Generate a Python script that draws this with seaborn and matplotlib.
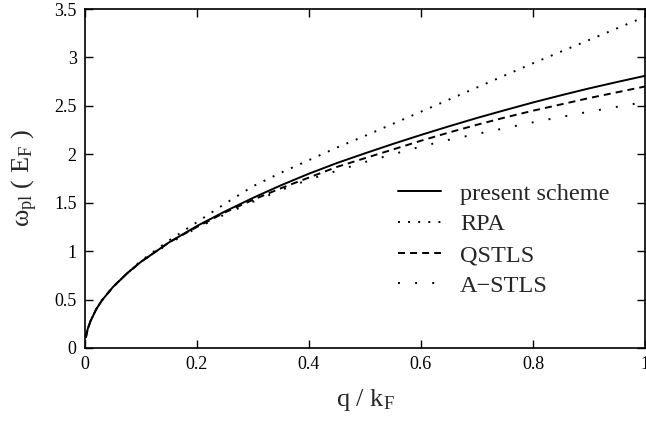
import matplotlib
matplotlib.use("Agg")
import matplotlib.pyplot as plt
import seaborn as sns
import numpy as np

# ---- data ----
q = [0.0015, 0.005, 0.01, 0.02, 0.03, 0.05, 0.075, 0.1, 0.15, 0.2, 0.25, 0.3,
     0.35, 0.4, 0.45, 0.5, 0.55, 0.6, 0.65, 0.7, 0.75, 0.8, 0.85, 0.9, 0.95, 1.0]
present = [0.11, 0.20, 0.28, 0.40, 0.49, 0.63, 0.77, 0.89, 1.09, 1.26, 1.41, 1.55,
           1.68, 1.80, 1.91, 2.01, 2.107, 2.20, 2.289, 2.375, 2.456, 2.535, 2.609,
           2.68, 2.746, 2.81]
rpa = [0.11, 0.20, 0.28, 0.40, 0.49, 0.63, 0.77, 0.90, 1.11, 1.30, 1.49, 1.67,
       1.81, 1.94, 2.07, 2.19, 2.315, 2.44, 2.565, 2.69, 2.815, 2.94, 3.06,
       3.18, 3.30, 3.42]
qstls = [0.11, 0.20, 0.28, 0.40, 0.49, 0.63, 0.77, 0.89, 1.09, 1.25, 1.40, 1.53,
         1.65, 1.76, 1.87, 1.96, 2.05, 2.14, 2.225, 2.305, 2.38, 2.45, 2.515,
         2.58, 2.64, 2.70]
astls = [0.11, 0.20, 0.28, 0.40, 0.49, 0.63, 0.77, 0.89, 1.08, 1.24, 1.38, 1.51,
         1.63, 1.74, 1.83, 1.92, 2.00, 2.08, 2.15, 2.21, 2.27, 2.33, 2.385,
         2.44, 2.49, 2.54]
labels = ["present scheme", "RPA", "QSTLS", "A\u2212STLS"]
xticks = [0, 0.2, 0.4, 0.6, 0.8, 1]
xticklabels = ["0", "0.2", "0.4", "0.6", "0.8", "1"]
yticks = [0, 0.5, 1, 1.5, 2, 2.5, 3, 3.5]
yticklabels = ["0", "0.5", "1", "1.5", "2", "2.5", "3", "3.5"]

sns.set_theme(style="ticks")
plt.rcParams["font.family"] = ["Liberation Serif", "DejaVu Serif"]
plt.rcParams["mathtext.fontset"] = "custom"
plt.rcParams["mathtext.rm"] = "Liberation Serif"
plt.rcParams["mathtext.it"] = "Liberation Serif"

fig = plt.figure(figsize=(6.46, 4.22), dpi=100)
ax = fig.add_axes([85 / 646, 1 - 348 / 422, 560 / 646, 339 / 422])

styles = [
    dict(linestyle="-", linewidth=1.4),
    dict(linestyle=(0, (1.0, 4.2)), linewidth=1.4),
    dict(linestyle=(0, (3.6, 2.6)), linewidth=1.4),
    dict(linestyle=(0, (1.0, 7.8)), linewidth=1.4),
]
series = [present, rpa, qstls, astls]
for vals, lab, st in zip(series, labels, styles):
    sns.lineplot(x=q, y=vals, ax=ax, color="black", label=lab, **st)

ax.set_xlim(0, 1)
ax.set_ylim(0, 3.5)
ax.set_xticks(xticks)
ax.set_xticklabels(xticklabels)
ax.set_yticks(yticks)
ax.set_yticklabels(yticklabels)
ax.tick_params(direction="in", length=6, width=1, top=True, right=True,
               labelsize=13, colors="black", pad=6)
for s in ax.spines.values():
    s.set_linewidth(1.2)
    s.set_color("black")

ax.set_xlabel(r"q / k$_{\rm F}$", fontsize=19, labelpad=10)
ax.set_ylabel(r"$\omega_{\rm pl}$ ( E$_{\rm F}$ )", fontsize=19, labelpad=10)

leg = ax.legend(loc="upper left", bbox_to_anchor=(0.559, 0.488), frameon=False,
                fontsize=17.5, handlelength=1.75, handletextpad=0.8,
                labelspacing=0.36, borderaxespad=0, borderpad=0)

fig.savefig("out.png", dpi=100)
